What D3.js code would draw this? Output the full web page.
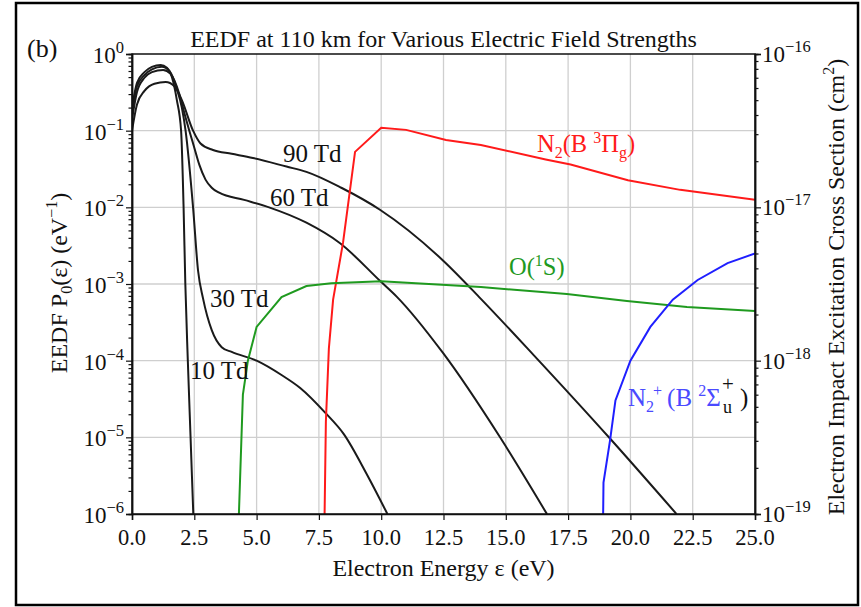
<!DOCTYPE html>
<html>
<head>
<meta charset="utf-8">
<script src="https://cdn.jsdelivr.net/npm/d3@7"></script>
<style>
  body { margin: 0; background: #fff; }
  text { font-family: "Liberation Serif", "Times New Roman", serif; fill: #111; }
</style>
</head>
<body>
<svg id="chart" width="861" height="607"></svg>
<script>
// tick values
const energyTicks = [0, 2.5, 5, 7.5, 10, 12.5, 15, 17.5, 20, 22.5, 25];
const leftExps = [0, -1, -2, -3, -4, -5, -6];
const rightExps = [-16, -17, -18, -19];

// EEDF curves [energy eV, P0 eV^-1]
const eedf10 = [[0, 0.2], [0.2, 0.42], [0.5, 0.58], [0.8, 0.68], [1.15, 0.72], [1.4, 0.66],
  [1.6, 0.5], [1.8, 0.25], [1.97, 0.1], [2.07, 0.01], [2.14, 1e-3], [2.24, 1e-4],
  [2.35, 1e-5], [2.46, 1e-6]];
const eedf30 = [[0, 0.17], [0.2, 0.38], [0.5, 0.53], [0.8, 0.63], [1.2, 0.68], [1.5, 0.6],
  [1.8, 0.35], [2.0, 0.2], [2.15, 0.1], [2.45, 0.01], [2.65, 1.5e-3], [2.85, 6.5e-4],
  [3.2, 2.5e-4], [3.6, 1.5e-4], [4.0, 1.3e-4], [5.0, 1e-4], [6.0, 6.5e-5], [6.75, 4.4e-5],
  [7.75, 2.1e-5], [8.5, 1.1e-5], [9.4, 3.4e-6], [10.25, 1e-6]];
const eedf60 = [[0, 0.14], [0.2, 0.32], [0.5, 0.49], [0.8, 0.58], [1.25, 0.62], [1.55, 0.55],
  [1.9, 0.3], [2.1, 0.17], [2.3, 0.1], [2.5, 0.06], [2.7, 0.036], [2.95, 0.023], [3.2, 0.018],
  [3.5, 0.0155], [4.5, 0.0125], [5.5, 0.01], [7.0, 6.3e-3], [8.35, 3.4e-3], [9.95, 1.1e-3],
  [10.63, 6.8e-4], [12.48, 1.26e-4], [14.77, 1e-5], [16.65, 1e-6]];
const eedf90 = [[0, 0.1], [0.2, 0.22], [0.5, 0.33], [0.9, 0.41], [1.35, 0.43], [1.7, 0.38],
  [2.0, 0.25], [2.45, 0.1], [2.75, 0.068], [3.25, 0.056], [4.0, 0.05], [4.85, 0.044],
  [6.2, 0.034], [7.0, 0.029], [8.4, 0.018], [9.95, 9.3e-3], [12.5, 2.0e-3], [14.0, 6.4e-4],
  [16.1, 1.2e-4], [19.2, 9.5e-6], [21.85, 1e-6]];

// cross sections [energy eV, sigma cm^2]
const xsN2B = [[7.72, 8e-20], [7.78, 4e-19], [7.9, 1.2e-18], [8.07, 2.5e-18], [8.47, 5.9e-18],
  [8.95, 2.3e-17], [10.0, 3.3e-17], [11.0, 3.2e-17], [12.6, 2.75e-17], [14.0, 2.55e-17],
  [16.6, 2.05e-17], [17.6, 1.9e-17], [19.9, 1.5e-17], [22.0, 1.3e-17], [25.0, 1.12e-17]];
const xsO1S = [[4.27, 8e-20], [4.45, 6e-19], [4.65, 1.0e-18], [5.0, 1.66e-18], [6.0, 2.6e-18],
  [7.0, 3.07e-18], [8.0, 3.2e-18], [10.0, 3.3e-18], [14.0, 3.02e-18], [17.45, 2.72e-18],
  [19.86, 2.45e-18], [22.27, 2.24e-18], [25.0, 2.11e-18]];
const xsN2pB = [[18.9, 8e-20], [18.92, 1.6e-19], [19.18, 3.0e-19], [19.4, 5.5e-19],
  [20.0, 1.0e-18], [20.8, 1.66e-18], [21.7, 2.5e-18], [22.7, 3.36e-18], [23.9, 4.33e-18],
  [25.0, 5.0e-18]];

const svg = d3.select('#chart');
const plotL = 132, plotR = 755, plotT = 54, plotB = 514;

const x = d3.scaleLinear().domain([0, 25]).range([plotL, plotR]);
const y = d3.scaleLog().domain([1e-6, 1]).range([plotB, plotT]);
const y2 = d3.scaleLog().domain([1e-19, 1e-16]).range([plotB, plotT]);

// outer frame
svg.append('rect').attr('x', 16).attr('y', 3).attr('width', 842).attr('height', 602)
  .attr('fill', 'none').attr('stroke', '#000').attr('stroke-width', 2.5);

// grid
const grid = svg.append('g').attr('stroke', '#cfcfcf').attr('stroke-width', 1.3);
energyTicks.slice(1, -1).forEach(e => {
  grid.append('line').attr('x1', x(e)).attr('x2', x(e)).attr('y1', plotT).attr('y2', plotB);
});
leftExps.slice(1, -1).forEach(k => {
  grid.append('line').attr('x1', plotL).attr('x2', plotR)
    .attr('y1', y(Math.pow(10, k))).attr('y2', y(Math.pow(10, k)));
});

// clip
svg.append('clipPath').attr('id', 'clip').append('rect')
  .attr('x', plotL).attr('y', plotT).attr('width', plotR - plotL).attr('height', plotB - plotT);

const eedfLine = d3.line().x(d => x(d[0])).y(d => y(d[1])).curve(d3.curveMonotoneX);
const xsLine = d3.line().x(d => x(d[0])).y(d => y2(d[1]));

const plot = svg.append('g').attr('clip-path', 'url(#clip)');
[eedf10, eedf30, eedf60, eedf90].forEach(s => {
  plot.append('path').attr('d', eedfLine(s)).attr('fill', 'none')
    .attr('stroke', '#1a1a1a').attr('stroke-width', 2);
});
[[xsN2B, '#ff1a1a'], [xsO1S, '#1f9a1f'], [xsN2pB, '#1f1fff']].forEach(([s, c]) => {
  plot.append('path').attr('d', xsLine(s)).attr('fill', 'none')
    .attr('stroke', c).attr('stroke-width', 2);
});

// axes
const bottomAxis = d3.axisBottom(x).tickValues(energyTicks).tickFormat('').tickSize(6);
svg.append('g').attr('transform', `translate(0,${plotB})`).call(bottomAxis);

const isMinor = v => Math.abs(Math.log10(v) - Math.round(Math.log10(v))) > 1e-6;
const leftMinor = y.ticks().filter(isMinor);
svg.append('g').attr('transform', `translate(${plotL},0)`)
  .call(d3.axisLeft(y).tickValues(leftExps.map(k => Math.pow(10, k))).tickFormat('').tickSize(6));
svg.append('g').attr('transform', `translate(${plotL},0)`)
  .call(d3.axisLeft(y).tickValues(leftMinor).tickFormat('').tickSize(3.5));

const rightMinor = y2.ticks().filter(isMinor);
svg.append('g').attr('transform', `translate(${plotR},0)`)
  .call(d3.axisRight(y2).tickValues(rightExps.map(k => Math.pow(10, k))).tickFormat('').tickSize(6));
svg.append('g').attr('transform', `translate(${plotR},0)`)
  .call(d3.axisRight(y2).tickValues(rightMinor).tickFormat('').tickSize(3.5));

svg.selectAll('.domain').attr('stroke', '#111').attr('stroke-width', 1.5);
svg.selectAll('.tick line').attr('stroke', '#111').attr('stroke-width', 1.2);

// plot frame
svg.append('rect').attr('x', plotL).attr('y', plotT).attr('width', plotR - plotL).attr('height', plotB - plotT)
  .attr('fill', 'none').attr('stroke', '#111').attr('stroke-width', 1.5);

// tick labels
energyTicks.forEach(e => {
  svg.append('text').attr('x', x(e)).attr('y', 545).attr('text-anchor', 'middle')
    .attr('font-size', 22.5).text(e.toFixed(1));
});

function powLabel(px, py, exp, anchor) {
  const t = svg.append('text').attr('x', px).attr('y', py).attr('text-anchor', anchor).attr('font-size', 23);
  t.append('tspan').text('10');
  t.append('tspan').attr('dy', -10).attr('font-size', 16.5).text(String(exp).replace('-', '\u2212'));
}
leftExps.forEach(k => powLabel(124, y(Math.pow(10, k)) + 9, k, 'end'));
rightExps.forEach(k => powLabel(762, y2(Math.pow(10, k)) + 8, k, 'start'));

// title, panel tag and axis titles
svg.append('text').attr('x', (plotL + plotR) / 2).attr('y', 47).attr('text-anchor', 'middle')
  .attr('font-size', 24).text('EEDF at 110 km for Various Electric Field Strengths');
svg.append('text').attr('x', 27).attr('y', 57).attr('font-size', 26).text('(b)');

svg.append('text').attr('x', (plotL + plotR) / 2).attr('y', 576).attr('text-anchor', 'middle')
  .attr('font-size', 24).text('Electron Energy \u03b5 (eV)');

const yl = svg.append('text').attr('transform', 'translate(67,283) rotate(-90)')
  .attr('text-anchor', 'middle').attr('font-size', 24);
yl.append('tspan').text('EEDF P');
yl.append('tspan').attr('dy', 5).attr('font-size', 16).text('0');
yl.append('tspan').attr('dy', -5).text('(\u03b5) (eV');
yl.append('tspan').attr('dy', -10).attr('font-size', 16).text('\u22121');
yl.append('tspan').attr('dy', 10).text(')');

const yr = svg.append('text').attr('transform', 'translate(844,287) rotate(-90)')
  .attr('text-anchor', 'middle').attr('font-size', 24);
yr.append('tspan').text('Electron Impact Excitation Cross Section (cm');
yr.append('tspan').attr('dy', -10).attr('font-size', 16).text('2');
yr.append('tspan').attr('dy', 10).text(')');

// curve annotations
const tdLabels = [['90 Td', 283, 162], ['60 Td', 270, 206], ['30 Td', 210, 307], ['10 Td', 190, 379]];
tdLabels.forEach(([s, px, py]) => {
  svg.append('text').attr('x', px).attr('y', py).attr('font-size', 25).text(s);
});

const red = '#ff1a1a';
const n2 = svg.append('text').attr('x', 537).attr('y', 152).attr('font-size', 24.5);
n2.append('tspan').attr('fill', red).text('N');
n2.append('tspan').attr('fill', red).attr('dy', 6).attr('font-size', 16).text('2');
n2.append('tspan').attr('fill', red).attr('dy', -6).text('(B ');
n2.append('tspan').attr('fill', red).attr('dy', -9).attr('font-size', 16).text('3');
n2.append('tspan').attr('fill', red).attr('dy', 9).text('\u03a0');
n2.append('tspan').attr('fill', red).attr('dy', 6).attr('font-size', 16).text('g');
n2.append('tspan').attr('fill', red).attr('dy', -6).text(')');

const green = '#1f9a1f';
const o1 = svg.append('text').attr('x', 509).attr('y', 275).attr('font-size', 24.5);
o1.append('tspan').attr('fill', green).text('O(');
o1.append('tspan').attr('fill', green).attr('dy', -9).attr('font-size', 16).text('1');
o1.append('tspan').attr('fill', green).attr('dy', 9).text('S)');

// blue label: N2+ (B 2Σ, then u below and + above, then closing paren
const blue = '#4a4aff';
const np = svg.append('text').attr('x', 628).attr('y', 406).attr('font-size', 25);
np.append('tspan').attr('fill', blue).text('N');
np.append('tspan').attr('fill', blue).attr('dy', 6).attr('font-size', 16).text('2');
np.append('tspan').attr('fill', blue).attr('dy', -16).attr('dx', -1).attr('font-size', 16).text('+');
np.append('tspan').attr('fill', blue).attr('dy', 10).text('\u2009(B ');
np.append('tspan').attr('fill', blue).attr('dy', -10).attr('font-size', 16).text('2');
np.append('tspan').attr('fill', blue).attr('dy', 10).text('\u03a3');
svg.append('text').attr('x', 723).attr('y', 413).attr('font-size', 18).attr('fill', blue).text('u');
svg.append('text').attr('x', 722).attr('y', 391).attr('font-size', 21).attr('fill', blue).text('+');
svg.append('text').attr('x', 740).attr('y', 406).attr('font-size', 25).attr('fill', blue).text(')');
</script>
</body>
</html>
